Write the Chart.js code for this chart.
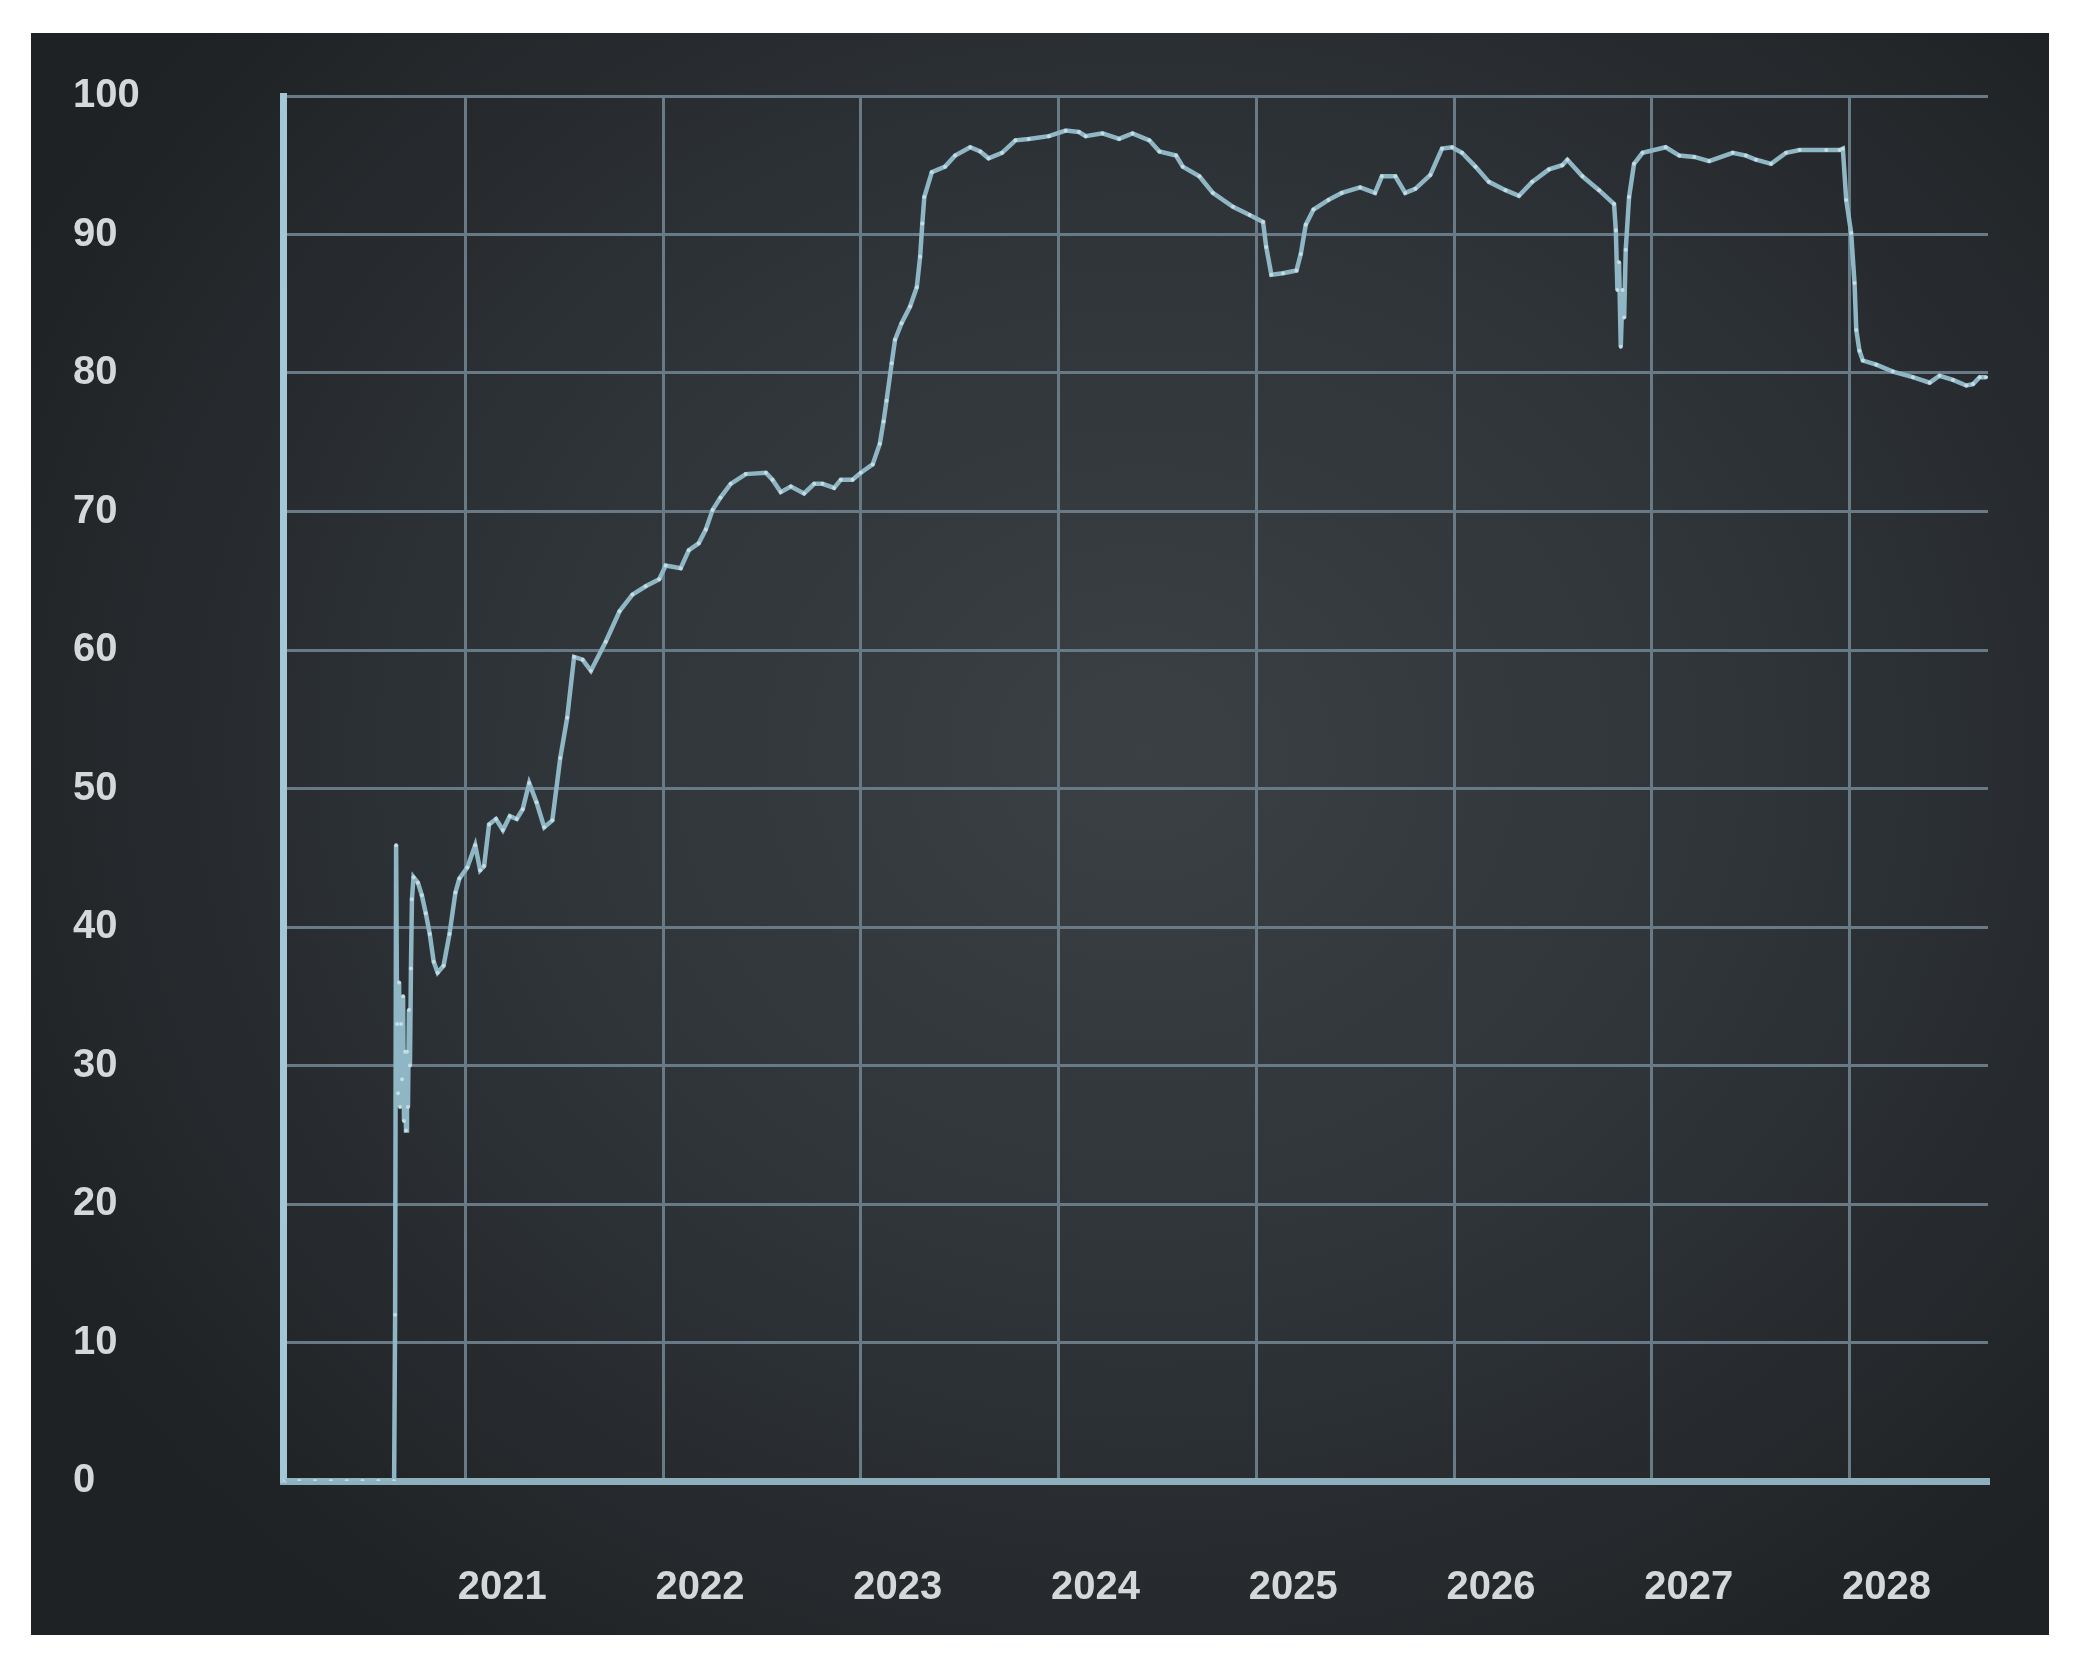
<!DOCTYPE html>
<html>
<head>
<meta charset="utf-8">
<script src="https://cdn.jsdelivr.net/npm/chart.js@4.4.1/dist/chart.umd.min.js"></script>
<style>
    html, body { margin: 0; padding: 0; background: #ffffff; }
    body { width: 2086px; height: 1667px; position: relative; overflow: hidden; }
    #panel {
        position: absolute; left: 31px; top: 33px; width: 2018px; height: 1602px;
        background: radial-gradient(ellipse 62% 68% at 55% 45%, #3b4044 0%, #2f3438 50%, #1f2225 100%);
    }
    #panel canvas { display: block; }
</style>
</head>
<body>
<div id="panel"><canvas id="chart" width="2018" height="1602"></canvas></div>
<script>
// x positions in decimal years
const years = [
    2020.08, 2020.16, 2020.24, 2020.32, 2020.40, 2020.48, 2020.56, 2020.64,
    2020.645, 2020.65, 2020.655, 2020.66, 2020.665, 2020.67, 2020.675, 2020.68,
    2020.685, 2020.69, 2020.695, 2020.70, 2020.705, 2020.71, 2020.715, 2020.72,
    2020.725, 2020.73, 2020.738, 2020.76, 2020.78, 2020.80, 2020.82, 2020.84,
    2020.86, 2020.89, 2020.92, 2020.95, 2020.97, 2021.01, 2021.05, 2021.075,
    2021.095, 2021.12, 2021.155, 2021.19, 2021.225, 2021.26, 2021.29, 2021.323,
    2021.36, 2021.399, 2021.44, 2021.48, 2021.515, 2021.55, 2021.593, 2021.635,
    2021.71, 2021.78, 2021.845, 2021.912, 2021.98, 2022.013, 2022.089, 2022.13,
    2022.18, 2022.216, 2022.25, 2022.29, 2022.342, 2022.418, 2022.52, 2022.553,
    2022.595, 2022.646, 2022.713, 2022.764, 2022.806, 2022.865, 2022.899, 2022.958,
    2023.0, 2023.06, 2023.096, 2023.115, 2023.13, 2023.156, 2023.173, 2023.206,
    2023.249, 2023.283, 2023.30, 2023.311, 2023.321, 2023.359, 2023.426, 2023.477,
    2023.553, 2023.604, 2023.646, 2023.714, 2023.782, 2023.849, 2023.951, 2024.036,
    2024.103, 2024.137, 2024.222, 2024.306, 2024.374, 2024.459, 2024.51, 2024.594,
    2024.628, 2024.712, 2024.78, 2024.882, 2024.966, 2025.034, 2025.05, 2025.076,
    2025.135, 2025.203, 2025.225, 2025.25, 2025.289, 2025.365, 2025.432, 2025.525,
    2025.60, 2025.635, 2025.703, 2025.753, 2025.804, 2025.88, 2025.939, 2025.99,
    2026.04, 2026.108, 2026.176, 2026.26, 2026.328, 2026.395, 2026.48, 2026.547,
    2026.573, 2026.649, 2026.733, 2026.809, 2026.818, 2026.826, 2026.834, 2026.843,
    2026.852, 2026.86, 2026.868, 2026.885, 2026.91, 2026.953, 2027.07, 2027.139,
    2027.215, 2027.29, 2027.409, 2027.476, 2027.527, 2027.603, 2027.679, 2027.747,
    2027.882, 2027.95, 2027.966, 2027.983, 2028.008, 2028.025, 2028.034, 2028.05,
    2028.067, 2028.135, 2028.219, 2028.32, 2028.405, 2028.455, 2028.523, 2028.59,
    2028.624, 2028.658, 2028.69
];

const values = [
    0, 0, 0, 0, 0, 0, 0, 0,
    12, 45.9, 33, 28, 36, 27, 33, 29,
    35, 26, 31, 25.3, 31, 27, 34, 30,
    37, 42, 43.6, 43.2, 42.3, 41.0, 39.5, 37.5,
    36.7, 37.2, 39.5, 42.5, 43.5, 44.3, 45.9, 44.1,
    44.4, 47.4, 47.8, 47.0, 48.0, 47.8, 48.5, 50.4,
    49.0, 47.2, 47.7, 52.2, 55.1, 59.5, 59.3, 58.5,
    60.6, 62.8, 64.0, 64.6, 65.1, 66.1, 65.9, 67.2,
    67.7, 68.7, 70.1, 71.0, 72.0, 72.7, 72.8, 72.3,
    71.4, 71.8, 71.3, 72.0, 72.0, 71.7, 72.3, 72.3,
    72.8, 73.4, 74.9, 76.5, 78.0, 80.7, 82.4, 83.6,
    84.8, 86.2, 88.4, 90.8, 92.7, 94.5, 94.9, 95.7,
    96.3, 96.0, 95.5, 95.9, 96.8, 96.9, 97.1, 97.5,
    97.4, 97.1, 97.3, 96.9, 97.3, 96.8, 96.0, 95.7,
    94.9, 94.2, 93.0, 92.0, 91.4, 90.9, 89.1, 87.1,
    87.2, 87.4, 88.6, 90.7, 91.8, 92.5, 93.0, 93.4,
    93.0, 94.2, 94.2, 93.0, 93.3, 94.3, 96.2, 96.3,
    95.9, 94.9, 93.8, 93.2, 92.8, 93.8, 94.7, 95.0,
    95.4, 94.2, 93.2, 92.2, 90.3, 86.0, 88.0, 81.9,
    86.0, 84.0, 88.9, 92.7, 95.1, 95.9, 96.3, 95.7,
    95.6, 95.3, 95.9, 95.7, 95.4, 95.1, 95.9, 96.1,
    96.1, 96.1, 96.2, 92.5, 90.1, 86.5, 83.1, 81.6,
    80.9, 80.6, 80.1, 79.7, 79.3, 79.8, 79.5, 79.1,
    79.2, 79.7, 79.7
];

const xMin = 2020.078;
const xMax = 2028.70;
const yTicks = [0, 10, 20, 30, 40, 50, 60, 70, 80, 90, 100];

const labelFont = { family: "'Liberation Sans', Arial, sans-serif", size: 40, weight: 'bold' };
const labelColor = '#d5d7d9';
const gridColor = '#677a86';

const points = years.map((x, i) => ({ x: x, y: values[i] }));

const ctx = document.getElementById('chart').getContext('2d');
const chart = new Chart(ctx, {
    type: 'line',
    data: {
        datasets: [{
            data: points,
            borderColor: '#8fb6c4',
            borderWidth: 4.5,
            tension: 0,
            pointRadius: 2,
            pointBorderWidth: 0,
            pointBackgroundColor: '#c4dce4',
            fill: false
        }]
    },
    options: {
        responsive: false,
        animation: false,
        devicePixelRatio: 1,
        layout: { padding: { left: 42, top: 63, right: 61, bottom: 0 } },
        plugins: {
            legend: { display: false },
            tooltip: { enabled: false }
        },
        scales: {
            x: {
                type: 'linear',
                min: xMin,
                max: xMax,
                border: { display: true, color: '#8eb0bd', width: 7 },
                grid: { color: gridColor, lineWidth: 3, drawTicks: false },
                ticks: {
                    stepSize: 1,
                    includeBounds: false,
                    autoSkip: false,
                    maxRotation: 0,
                    labelOffset: 37,
                    padding: 83,
                    color: labelColor,
                    font: labelFont,
                    callback: (v) => String(v)
                },
                afterFit: (scale) => { scale.height = 154; }
            },
            y: {
                min: yTicks[0],
                max: yTicks[yTicks.length - 1],
                border: { display: true, color: '#a4c7d5', width: 7 },
                grid: { color: gridColor, lineWidth: 3, drawTicks: false },
                ticks: {
                    stepSize: 10,
                    crossAlign: 'far',
                    color: labelColor,
                    font: labelFont
                },
                afterFit: (scale) => { scale.width = 210; }
            }
        }
    }
});
</script>
</body>
</html>
